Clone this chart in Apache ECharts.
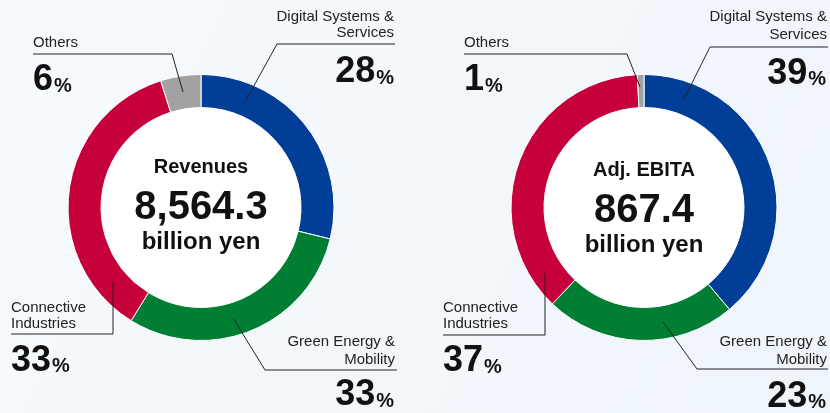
<!DOCTYPE html>
<html>
<head>
<meta charset="utf-8">
<script src="https://cdn.jsdelivr.net/npm/echarts@6/dist/echarts.min.js"></script>
<style>
  html, body { margin: 0; padding: 0; }
  #chart { width: 830px; height: 413px; }
</style>
</head>
<body>
<div id="chart"></div>
<script>
const segmentNames = ['Digital Systems &\nServices', 'Green Energy &\nMobility', 'Connective\nIndustries', 'Others'];
// arc sizes (clockwise from 12 o'clock)
const revenueShare = [28.8, 30.0, 36.3, 4.9];
const ebitaShare = [38.9, 23.2, 37.1, 0.8];
// printed percentages
const revenuePct = ['28', '33', '33', '6'];
const ebitaPct = ['39', '23', '37', '1'];
const centerTitles = ['Revenues', 'Adj. EBITA'];
const centerValues = ['8,564.3', '867.4'];
const centerUnit = 'billion yen';

const colors = ['#003e97', '#007f34', '#c6003b', '#a2a2a2'];
const FONT = '"Liberation Sans", Arial, Helvetica, sans-serif';

const ctx = document.createElement('canvas').getContext('2d');
function textWidth(txt, size, weight) {
  ctx.font = weight + ' ' + size + 'px ' + FONT;
  return ctx.measureText(txt).width;
}

// label placement per chart: leader points, label anchor, percent anchor
const layouts = [
  {
    center: [201, 207.5],
    slots: [
      { line: [[245, 102], [277, 44], [395, 44]], align: 'right', lx: 394, ly: [17, 33], px: 394, py: 72.5 },
      { line: [[233, 318], [265, 370], [397, 370]], align: 'right', lx: 395, ly: [342, 360], px: 394, py: 395.5 },
      { line: [[113, 282], [113, 334], [11, 334]], align: 'left', lx: 11, ly: [308, 324], px: 11, py: 361 },
      { line: [[183, 92], [172, 54], [33, 54]], align: 'left', lx: 33, ly: [43], px: 33, py: 80.5 }
    ]
  },
  {
    center: [644, 207.5],
    slots: [
      { line: [[684, 99], [710, 47], [828, 47]], align: 'right', lx: 827, ly: [17, 35], px: 826, py: 74 },
      { line: [[663, 322], [697, 369], [828, 369]], align: 'right', lx: 827, ly: [342, 360], px: 826, py: 397 },
      { line: [[545, 273], [545, 335], [443, 335]], align: 'left', lx: 443, ly: [308, 324], px: 443, py: 361.5 },
      { line: [[640, 87], [627, 54], [464, 54]], align: 'left', lx: 464, ly: [43], px: 464, py: 80.5 }
    ]
  }
];

const shares = [revenueShare, ebitaShare];
const pcts = [revenuePct, ebitaPct];

function pieSeries(i) {
  return {
    type: 'pie',
    center: layouts[i].center,
    radius: [100, 133],
    startAngle: 90,
    clockwise: true,
    silent: true,
    z: 2,
    label: { show: false },
    labelLine: { show: false },
    itemStyle: { borderColor: '#ffffff', borderWidth: 1 },
    data: shares[i].map(function(v, k) {
      return { value: v, name: segmentNames[k], itemStyle: { color: colors[k] } };
    })
  };
}

function buildGraphics() {
  const els = [];
  layouts.forEach(function(lay, i) {
    // white disc inside the ring
    els.push({
      type: 'circle', shape: { cx: lay.center[0], cy: lay.center[1], r: 100 },
      style: { fill: '#ffffff' }, z: 0
    });
    const cx = lay.center[0];
    const dy = i === 0 ? 0 : 3;
    els.push({ type: 'text', z: 10, x: cx, y: 167 + dy, style: { text: centerTitles[i], align: 'center', verticalAlign: 'middle', font: 'bold 20px ' + FONT, fill: '#111' } });
    els.push({ type: 'text', z: 10, x: cx, y: 207.5 + dy, style: { text: centerValues[i], align: 'center', verticalAlign: 'middle', font: 'bold 40px ' + FONT, fill: '#111' } });
    els.push({ type: 'text', z: 10, x: cx, y: 242 + dy, style: { text: centerUnit, align: 'center', verticalAlign: 'middle', font: 'bold 24px ' + FONT, fill: '#111' } });

    lay.slots.forEach(function(s, k) {
      els.push({ type: 'polyline', z: 10, shape: { points: s.line }, style: { stroke: '#222', lineWidth: 1, fill: null } });
      segmentNames[k].split('\n').forEach(function(t, j) {
        els.push({ type: 'text', z: 10, x: s.lx, y: s.ly[j], style: { text: t, align: s.align, verticalAlign: 'middle', font: '15px ' + FONT, fill: '#222' } });
      });
      const num = pcts[i][k];
      const wNum = textWidth(num, 36, 'bold');
      const wPct = textWidth('%', 20, 'bold');
      let nx = s.px;
      if (s.align === 'right') nx = s.px - wPct - 1 - wNum;
      els.push({ type: 'text', z: 10, x: nx, y: s.py, style: { text: num, align: 'left', verticalAlign: 'middle', font: 'bold 36px ' + FONT, fill: '#111' } });
      els.push({ type: 'text', z: 10, x: nx + wNum + 1, y: s.py + 5.6, style: { text: '%', align: 'left', verticalAlign: 'middle', font: 'bold 20px ' + FONT, fill: '#111' } });
    });
  });
  return els;
}

const chart = echarts.init(document.getElementById('chart'));
chart.setOption({
  backgroundColor: {
    type: 'linear', x: 0, y: 0, x2: 1, y2: 1,
    colorStops: [{ offset: 0, color: '#f7fafd' }, { offset: 1, color: '#eef5fb' }]
  },
  animation: false,
  series: [pieSeries(0), pieSeries(1)],
  graphic: buildGraphics()
});
</script>
</body>
</html>
